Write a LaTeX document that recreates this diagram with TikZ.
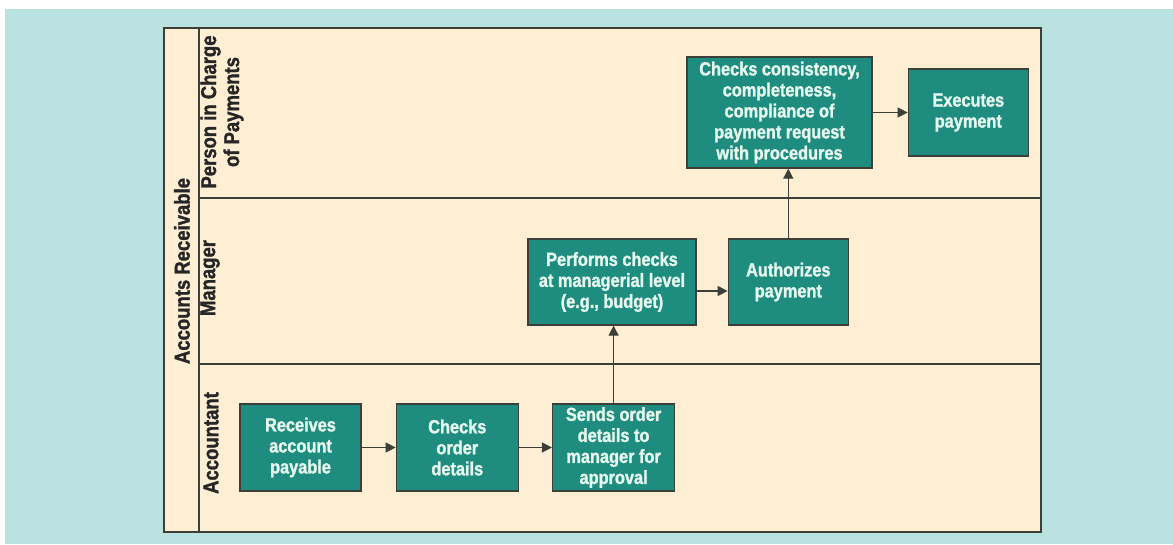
\documentclass[tikz,border=0pt]{standalone}
\usepackage{fontspec}
\setmainfont[FakeStretch=0.86, BoldFeatures={FakeBold=1.4}]{Liberation Sans}
\usetikzlibrary{positioning,arrows.meta}

\definecolor{bgteal}{HTML}{B9E2E0}
\definecolor{lanefill}{HTML}{FEEED3}
\definecolor{boxteal}{HTML}{1E8D80}
\definecolor{boxtext}{HTML}{E6F8EE}
\definecolor{rulecol}{HTML}{3C3F38}

\begin{document}
\begin{tikzpicture}[x=1pt,y=-1pt]

        \tikzstyle{arrow} = [draw=rulecol, line width=1.2pt, -{Triangle[length=10pt,width=10pt]}]
        \tikzset{task/.style = {rectangle, draw=rulecol, line width=1.3pt, fill=boxteal, text=boxtext, font=\bfseries\fontsize{19}{21}\selectfont, align=center, inner sep=0pt, minimum height=87pt}, }
        \tikzset{lanelabel/.style = {font=\bfseries\fontsize{21.5}{23}\selectfont, text=black!85, align=center, rotate=90}, }
        \tikzset{laneline/.style = {draw=rulecol, line width=1.5pt} }

        % background and swimlanes
        \fill[white] (0,0) rectangle (1173,544);
        \fill[bgteal] (5,9) rectangle (1173,544);
        \draw[laneline, fill=lanefill, line width=1.8pt] (164,28) rectangle (1041,532);
        \draw[laneline] (199,28) -- (199,532);
        \draw[laneline] (199,198) -- (1041,198);
        \draw[laneline] (199,364) -- (1041,364);

        \node[lanelabel] (AR) at (182,271) {Accounts Receivable};
        \node[lanelabel] (LP) at (222,112) {Person in Charge\\of Payments};
        \node[lanelabel] (LM) at (210,278) {Manager};
        \node[lanelabel] (LA) at (211,443) {Accountant};

        % accountant
        \node[task, minimum width=121pt] (rcv) at (300.5,447.5) {Receives\\account\\payable};
        \node[task, minimum width=122pt, right=34pt of rcv] (chk) {Checks\\order\\details};
        \node[task, minimum width=122pt, right=33pt of chk] (snd) {Sends order\\details to\\manager for\\approval};

        % manager
        \node[task, minimum width=168pt, minimum height=86pt] (perf) at (612,282) {Performs checks\\at managerial level\\(e.g., budget)};
        \node[task, minimum width=120pt, minimum height=86pt, right=31pt of perf] (auth) {Authorizes\\payment};

        % person in charge of payments
        \node[task, minimum width=185pt, minimum height=111pt] (cons) at (779.5,112.5) {Checks consistency,\\completeness,\\compliance of\\payment request\\with procedures};
        \node[task, minimum width=120pt, right=35pt of cons] (exec) {Executes\\payment};

        \draw[arrow] (rcv) -- (chk);
        \draw[arrow] (chk) -- (snd);
        \draw[arrow] (snd.north) -- (snd.north |- perf.south);
        \draw[arrow] ([yshift=-9pt]perf.east) -- ([yshift=-9pt]auth.west);
        \draw[arrow] (auth.north) -- (auth.north |- cons.south);
        \draw[arrow] (cons) -- (exec);

\end{tikzpicture}
\end{document}
